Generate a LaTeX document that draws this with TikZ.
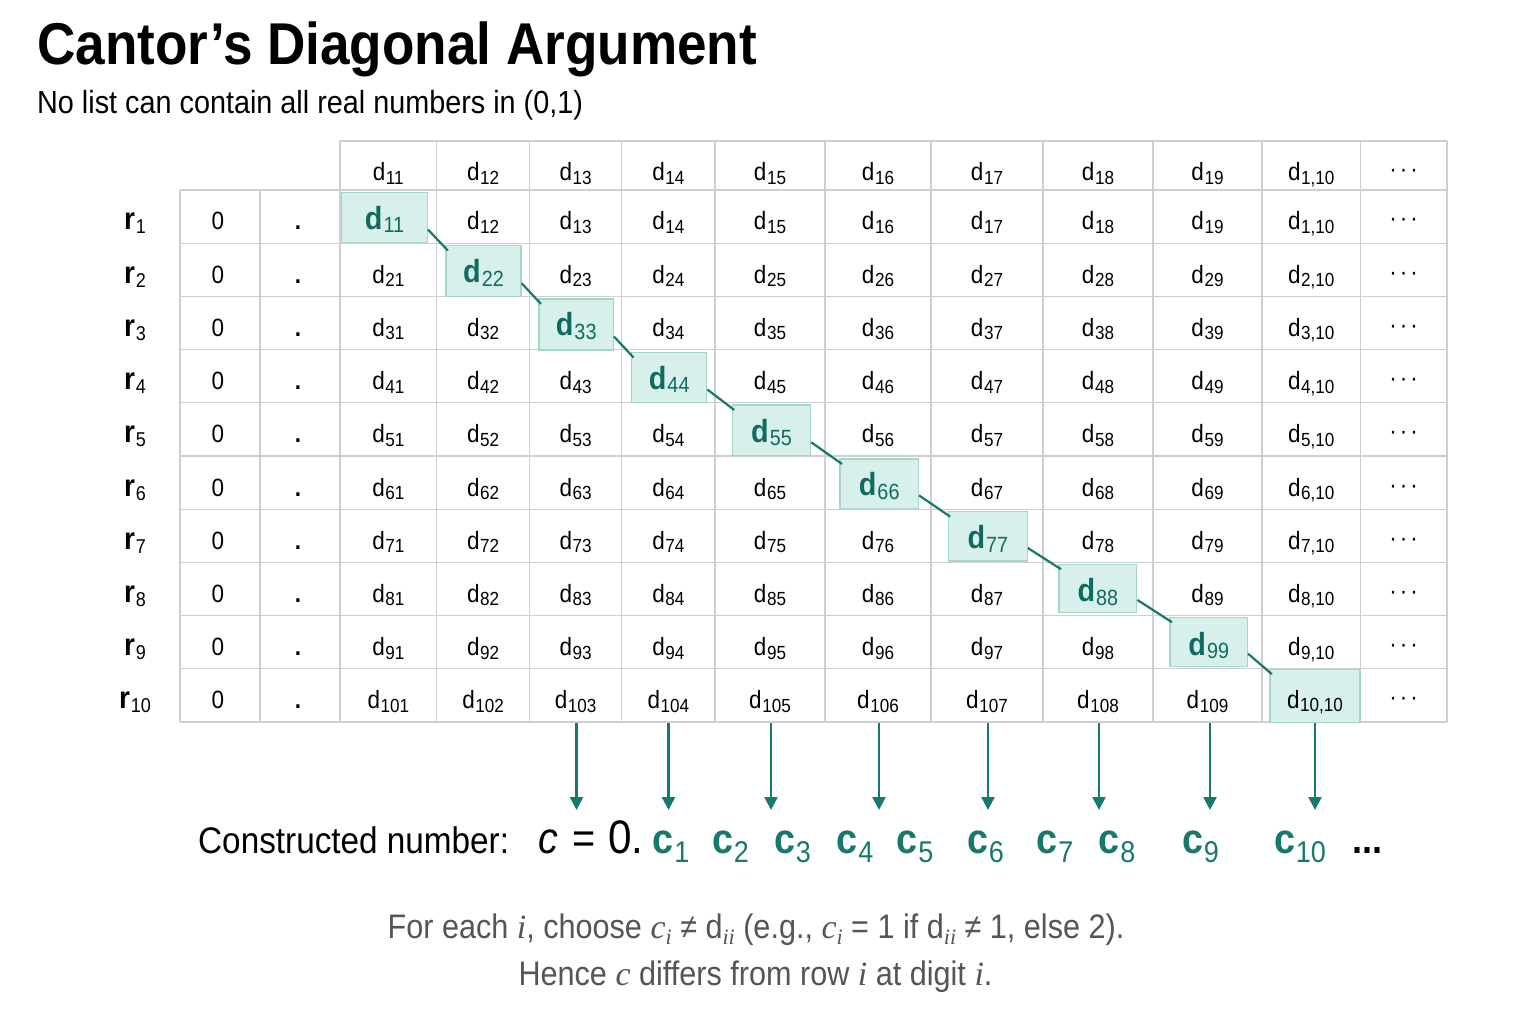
\documentclass[tikz,border=0pt]{standalone}
\usepackage{fontspec}
\setmainfont{Liberation Sans}[FakeStretch=0.9]
\newfontfamily\serifit{Liberation Serif}
\usetikzlibrary{arrows.meta,calc}
\definecolor{gridgray}{HTML}{CFCFCF}
\definecolor{hifill}{HTML}{D7F0EB}
\definecolor{hiborder}{HTML}{A5D6CD}
\definecolor{tealtext}{HTML}{0F6B60}
\definecolor{tealline}{HTML}{17796D}
\definecolor{capgray}{HTML}{555555}
\newcommand\dsub[1]{d\kern0.5pt\raisebox{-3.5pt}{\fontsize{19}{19}\selectfont #1}}
\newcommand\dbold[1]{{\bfseries d}\kern1pt\raisebox{-3.5pt}{\fontsize{22}{22}\selectfont #1}}
\newcommand\rlab[1]{{\bfseries r}\kern1pt\raisebox{-4pt}{\fontsize{20}{20}\selectfont #1}}
\newcommand\cbold[1]{{\bfseries c}\kern0.5pt\raisebox{-9pt}{\fontsize{30}{30}\selectfont #1}}
\newcommand\vi{{\serifit\itshape i}}
\newcommand\vc{{\serifit\itshape c}}
\newcommand\lsub[1]{\raisebox{-6pt}{\fontsize{22}{22}\selectfont #1}}
\newcommand\hdots{·\kern3pt·\kern3pt·}
\begin{document}
\begin{tikzpicture}[x=1pt,y=-1pt,
  gridline/.style={draw=gridgray,line width=1.2pt},
  cell/.style={anchor=base,inner sep=0pt,font=\fontsize{25}{30}\selectfont},
  dcell/.style={anchor=base,inner sep=0pt,text=tealtext,font=\fontsize{32}{36}\selectfont},
  rowlab/.style={anchor=base,inner sep=0pt,font=\fontsize{31}{36}\selectfont},
  hbox/.style={draw=hiborder,fill=hifill,line width=1.2pt,inner sep=0pt},
  diagline/.style={draw=tealline,line width=2.2pt},
  arr/.style={draw=tealline,line width=2.5pt,-{Triangle[width=13pt,length=13pt]}},
  cdig/.style={anchor=base,inner sep=0pt,text=tealline,font=\fontsize{42}{46}\selectfont},
  caption/.style={anchor=base,inner sep=0pt,text=capgray,font=\fontsize{34}{40}\selectfont}
]
\fill[white] (0,0) rectangle (1536,1024);
\useasboundingbox (0,0) rectangle (1536,1024);

\node[anchor=base west,inner sep=0pt,font=\fontsize{59}{64}\selectfont\bfseries] (title) at (37,65) {Cantor’s Diagonal Argument};
\node[anchor=base west,inner sep=0pt,font=\fontsize{32}{38}\selectfont] (subtitle) at (37,114) {No list can contain all real numbers in (0,1)};

% grid
\draw[gridline] (340,141) -- (1447,141);
\foreach \k in {0,...,10} \draw[gridline] (180,{190+53.2*\k}) -- (1447,{190+53.2*\k});
\foreach \x in {180,260} \draw[gridline] (\x,190) -- (\x,722);
\foreach \x in {340,436.7,529.5,621.7,715,825,931,1043,1153,1262,1360.5,1447} \draw[gridline] (\x,141) -- (\x,722);

% header
\foreach \cx [count=\j] in {388.3,483.1,575.6,668.3,770,878,987,1098,1207.5,1311.2}
  \node[cell] (hd\j) at (\cx,181) {\dsub{\ifnum\j=10 1,10\else1\j\fi}};
\node[cell] (hdE) at (1403.7,178) {\hdots};

% rows
\foreach \r in {1,...,10} {
  \pgfmathsetmacro\by{190+53.2*(\r-1)+40}
  \node[rowlab] (r\r) at (135,\by) {\rlab{\r}};
  \node[cell] (z\r) at (218,\by) {0};
  \node[cell] (p\r) at (298,\by) {\bfseries .};
  \foreach \cx [count=\j] in {388.3,483.1,575.6,668.3,770,878,987,1098,1207.5,1311.2} {
    \ifnum\j=\r\relax\else
      \node[cell] (d\r-\j) at (\cx,\by) {\dsub{\ifnum\j=10 \r,10\else\r\j\fi}};
    \fi
  }
  \node[cell] (e\r) at (1403.7,\by-3) {\hdots};
}

% diagonal boxes
\foreach \bx/\bcy/\bw/\bh [count=\i] in {384.5/217.7/85.6/50,483.5/271.2/75/51,576.2/324.5/74.3/51,669.2/377.7/75/50,771.5/430.4/78.4/50.7,879.2/483.7/78.3/49.3,987.8/536.4/79/49.3,1097.9/588.5/77.7/48.4,1208.7/642/77.3/49.4,1315/695.8/90/53} {
  \node[hbox,minimum width=\bw pt,minimum height=\bh pt] (h\i) at (\bx,\bcy) {};
  \pgfmathsetmacro\by{190+53.2*(\i-1)+39.5}
  \ifnum\i<10
    \node[dcell] (t\i) at (\bx,\by) {\dbold{\i\i}};
  \else
    \node[cell] (t\i) at (\bx,\by) {\dsub{10,10}};
  \fi
}
\foreach \i in {1,...,9} {
  \pgfmathtruncatemacro\n{\i+1}
  \draw[diagline] ($(h\i.north east)!0.73!(h\i.south east)$) -- ($(h\n.north west)+(2.5,5.5)$);
}

% arrows
\foreach \x [count=\k] in {576.5,668.5,771,879,988,1099,1210,1315} {
  \coordinate (as\k) at (\x,723);
  \coordinate (ae\k) at (\x,810);
  \draw[arr] (as\k) -- (ae\k);
}

% constructed number
\node[anchor=base west,inner sep=0pt,font=\fontsize{37}{42}\selectfont] (cn) at (198,853) {Constructed number:};
\node[anchor=base west,inner sep=0pt,font=\fontsize{44}{48}\selectfont] (ceq) at (538,853) {\textit{c}\hspace{14pt}=\hspace{13pt}{\fontsize{47}{50}\selectfont 0.}};
\foreach \x [count=\k] in {671,730.5,792.5,855,915,985.5,1055,1117,1200.5,1300}
  \node[cdig] (c\k) at (\x,853) {\cbold{\k}};
\node[anchor=base,inner sep=0pt,font=\fontsize{40}{44}\selectfont\bfseries] (cdots) at (1367,853) {...};

% caption
\node[caption] (cap1) at (756,938) {For each \vi, choose \vc\lsub{\vi} ≠ d\lsub{\vi\vi} (e.g., \vc\lsub{\vi} = 1 if d\lsub{\vi\vi} ≠ 1, else 2).};
\node[caption] (cap2) at (755.5,985) {Hence \vc{} differs from row \vi{} at digit \vi.};
\end{tikzpicture}
\end{document}
